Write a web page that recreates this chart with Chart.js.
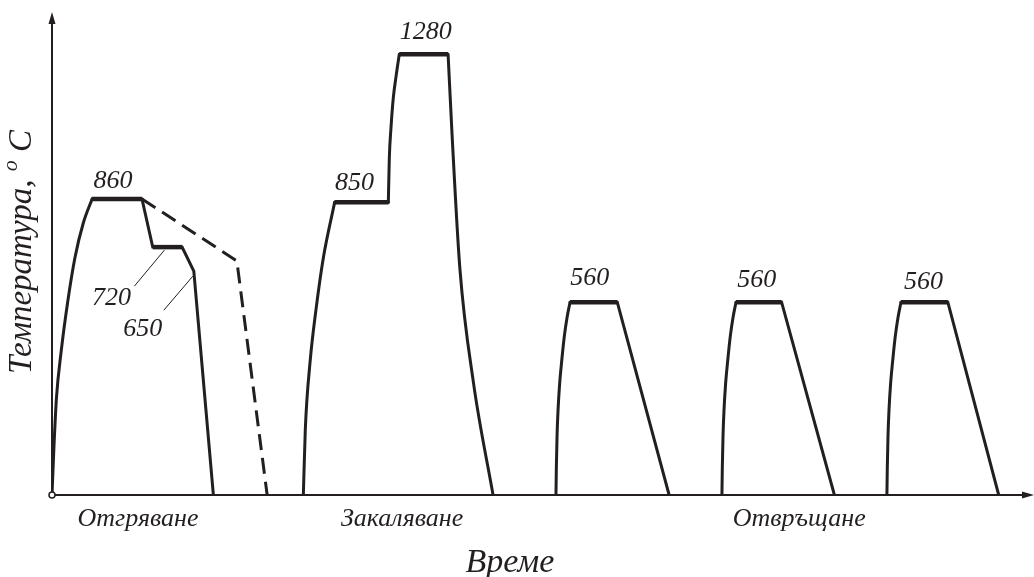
<!DOCTYPE html>
<html>
<head>
<meta charset="utf-8">
<script src="https://cdn.jsdelivr.net/npm/chart.js@4"></script>
<style>
  body { margin: 0; background: #fff; }
  #wrap { width: 1034px; height: 577px; }
</style>
</head>
<body>
<div id="wrap"><canvas id="heat_chart" width="1034" height="577"></canvas></div>
<script>
// Отгряване: нагряване, задържане, стъпално охлаждане и охлаждане с пещта
var annealHeatTime = [0, 0.2, 0.45, 0.95, 1.6, 2.35, 3.2, 4.1];
var annealHeatTemp = [0, 140, 280, 420, 560, 690, 790, 860];
var annealCoolTime = [4.1, 9.2, 10.3, 13.3, 14.5, 16.5];
var annealCoolTemp = [860, 860, 720, 720, 650, 0];
var furnaceCoolTime = [9.2, 18.9, 22.0];
var furnaceCoolTemp = [860, 680, 0];

// Закаляване: подгряване до 850, нагряване до 1280, охлаждане
var quenchHeatTime = [25.7, 25.9, 26.4, 27.0, 27.75, 28.9];
var quenchHeatTemp = [0, 190, 390, 540, 690, 850];
var quenchRiseTime = [34.39, 34.49, 34.66, 34.9, 35.18, 35.51];
var quenchRiseTemp = [850, 978, 1066, 1154, 1216, 1280];
var quenchCoolTime = [40.5, 40.9, 41.7, 43.1, 45.1];
var quenchCoolTemp = [1280, 1050, 660, 325, 0];

// Отвръщане: три цикъла при 560
var temperHeatTime = [
    [51.53, 51.57, 51.64, 51.74, 51.91, 52.12, 52.38, 52.66, 52.97],
    [68.5, 68.54, 68.61, 68.71, 68.88, 69.09, 69.35, 69.63, 69.94],
    [85.37, 85.41, 85.48, 85.58, 85.75, 85.96, 86.22, 86.5, 86.81]
];
var temperHeatTemp = [0, 80, 170, 245, 325, 390, 460, 515, 560];
var temperHoldEnd = [57.8, 74.6, 91.6];
var temperCoolEnd = [63.1, 80.0, 96.8];

// Изотермични участъци
var plateauStart = [4.1, 10.3, 28.9, 35.51, 52.97, 69.94, 86.81];
var plateauEnd = [9.2, 13.3, 34.39, 40.5, 57.8, 74.6, 91.6];
var plateauTemp = [860, 720, 850, 1280, 560, 560, 560];

// Надписи под оста на времето
var phaseNames = ['Отгряване', 'Закаляване', 'Отвръщане'];
var phaseTimes = [8.8, 35.8, 76.4];

var INK = '#231f20';

function pts(xs, ys) {
    return xs.map(function (x, i) { return { x: x, y: ys[i] }; });
}

function line(data, opts) {
    return Object.assign({
        data: data,
        showLine: true,
        borderColor: INK,
        borderWidth: 3,
        pointRadius: 0,
        tension: 0,
        borderCapStyle: 'round',
        borderJoinStyle: 'miter',
        fill: false
    }, opts || {});
}

// плавните криви на нагряване
var smooth = { cubicInterpolationMode: 'monotone' };

var datasets = [];
datasets.push(line(pts(annealHeatTime, annealHeatTemp), smooth));
datasets.push(line(pts(annealCoolTime, annealCoolTemp)));
datasets.push(line(pts(furnaceCoolTime, furnaceCoolTemp), { borderDash: [16, 8], borderCapStyle: 'butt' }));
datasets.push(line(pts(quenchHeatTime, quenchHeatTemp), smooth));
datasets.push(line(pts([plateauStart[2], plateauEnd[2]], [850, 850])));
datasets.push(line(pts(quenchRiseTime, quenchRiseTemp), smooth));
datasets.push(line(pts(quenchCoolTime, quenchCoolTemp), smooth));
temperHeatTime.forEach(function (ts, i) {
    datasets.push(line(pts(ts, temperHeatTemp), smooth));
    datasets.push(line(pts([ts[ts.length - 1], temperHoldEnd[i], temperCoolEnd[i]], [560, 560, 0])));
});
// задържанията се чертаят по-дебело
plateauStart.forEach(function (s, i) {
    datasets.push(line(pts([s, plateauEnd[i]], [plateauTemp[i], plateauTemp[i]]), { borderWidth: 4.5, borderCapStyle: 'butt' }));
});

// стойности над участъците: [температура, време на котвата, dx, dy]
var tags = [
    [860, (plateauStart[0] + plateauEnd[0]) / 2, -4, -18],
    [720, (plateauStart[1] + plateauEnd[1]) / 2, -56, 51],
    [650, annealCoolTime[4], -51, 58],
    [850, (plateauStart[2] + plateauEnd[2]) / 2, -7, -19],
    [1280, (plateauStart[3] + plateauEnd[3]) / 2, 2, -22],
    [560, (plateauStart[4] + plateauEnd[4]) / 2, -4, -24],
    [560, (plateauStart[5] + plateauEnd[5]) / 2, -2, -22],
    [560, (plateauStart[6] + plateauEnd[6]) / 2, -1, -20]
];
// водещи линии към 720 и 650
var leaders = [
    [1, -33, 39, -3, 3],
    [2, -30, 39, -1, 5]
];

var decor = {
    id: 'decor',
    afterDatasetsDraw: function (chart) {
        var ctx = chart.ctx;
        var xs = chart.scales.x, ys = chart.scales.y;
        var x0 = xs.getPixelForValue(0), y0 = ys.getPixelForValue(0);
        ctx.save();
        ctx.strokeStyle = INK;
        ctx.fillStyle = INK;

        // оси
        ctx.lineWidth = 2;
        ctx.beginPath();
        ctx.moveTo(x0, y0);
        ctx.lineTo(x0, 16);
        ctx.moveTo(x0, y0);
        ctx.lineTo(1030, y0);
        ctx.stroke();
        ctx.beginPath();
        ctx.moveTo(x0, 12); ctx.lineTo(x0 - 3.5, 24); ctx.lineTo(x0 + 3.5, 24); ctx.closePath();
        ctx.moveTo(1034, y0); ctx.lineTo(1022, y0 - 3.5); ctx.lineTo(1022, y0 + 3.5); ctx.closePath();
        ctx.fill();
        ctx.beginPath();
        ctx.arc(x0, y0, 3, 0, Math.PI * 2);
        ctx.fillStyle = '#fff';
        ctx.fill();
        ctx.lineWidth = 1.5;
        ctx.stroke();
        ctx.fillStyle = INK;

        // водещи линии
        ctx.lineWidth = 1;
        leaders.forEach(function (l) {
            var t = tags[l[0]];
            var ax = xs.getPixelForValue(t[1]), ay = ys.getPixelForValue(t[0]);
            ctx.beginPath();
            ctx.moveTo(ax + l[1], ay + l[2]);
            ctx.lineTo(ax + l[3], ay + l[4]);
            ctx.stroke();
        });

        // стойности
        ctx.font = 'italic 26px "Liberation Serif"';
        ctx.textAlign = 'center';
        ctx.textBaseline = 'middle';
        tags.forEach(function (t) {
            ctx.fillText(String(t[0]), xs.getPixelForValue(t[1]) + t[2], ys.getPixelForValue(t[0]) + t[3]);
        });

        // етапи
        phaseNames.forEach(function (name, i) {
            ctx.fillText(name, xs.getPixelForValue(phaseTimes[i]), y0 + 24);
        });

        // надписи на осите
        ctx.font = 'italic 34px "Liberation Serif"';
        ctx.textBaseline = 'alphabetic';
        ctx.fillText('Време', 510, 572);

        ctx.textBaseline = 'middle';
        ctx.translate(22, 252);
        ctx.rotate(-Math.PI / 2);
        ctx.textAlign = 'left';
        var main = 'Температура, ';
        ctx.font = 'italic 33px "Liberation Serif"';
        var w1 = ctx.measureText(main).width;
        ctx.font = 'italic 22px "Liberation Serif"';
        var w2 = ctx.measureText('o').width;
        ctx.font = 'italic 33px "Liberation Serif"';
        var w3 = ctx.measureText(' C').width;
        var start = -(w1 + w2 + w3) / 2;
        ctx.fillText(main, start, 0);
        ctx.font = 'italic 22px "Liberation Serif"';
        ctx.fillText('o', start + w1, -11);
        ctx.font = 'italic 33px "Liberation Serif"';
        ctx.fillText(' C', start + w1 + w2, 0);
        ctx.restore();
    }
};

var heatChart = new Chart(document.getElementById('heat_chart').getContext('2d'), {
    type: 'scatter',
    data: { datasets: datasets },
    options: {
        responsive: false,
        animation: false,
        layout: { padding: { left: 52, right: 4, top: 13, bottom: 82 } },
        plugins: { legend: { display: false }, tooltip: { enabled: false } },
        scales: {
            x: { type: 'linear', min: 0, max: 100, display: false },
            y: { type: 'linear', min: 0, max: 1400, display: false }
        }
    },
    plugins: [decor]
});
</script>
</body>
</html>
